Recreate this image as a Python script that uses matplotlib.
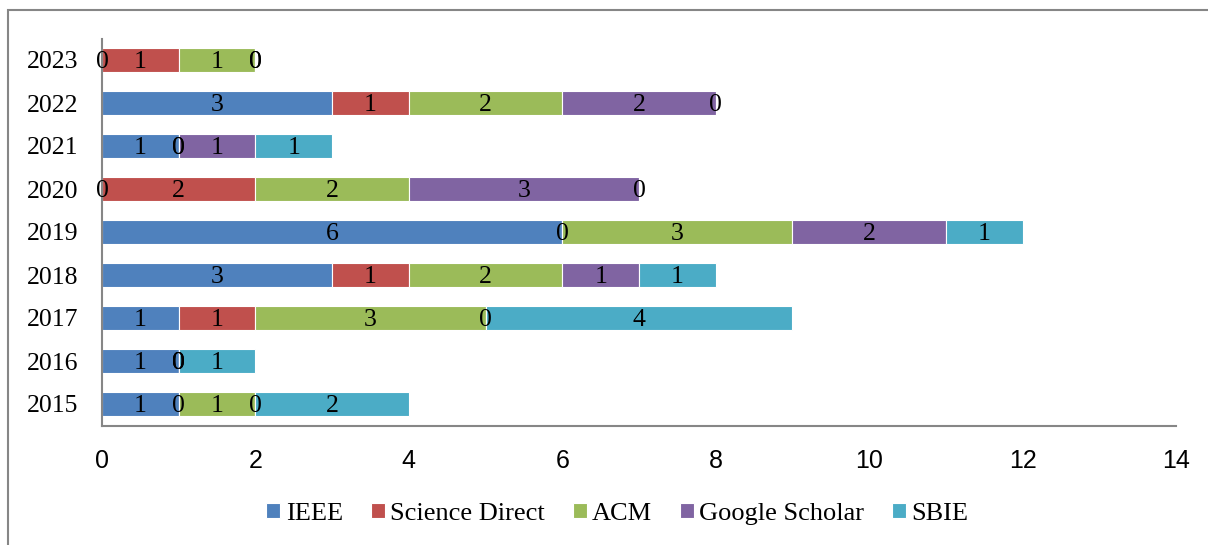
import matplotlib
matplotlib.use("Agg")
import matplotlib.pyplot as plt
from matplotlib.patches import Rectangle
import numpy as np

years = ["2015", "2016", "2017", "2018", "2019", "2020", "2021", "2022", "2023"]
ieee = [1, 1, 1, 3, 6, 0, 1, 3, 0]
science_direct = [0, 0, 1, 1, 0, 2, 0, 1, 1]
acm = [1, 0, 3, 2, 3, 2, 0, 2, 1]
google_scholar = [0, 0, 0, 1, 2, 3, 1, 2, 0]
sbie = [2, 1, 4, 1, 1, 0, 1, 0, 0]

series = [("IEEE", ieee, "#4F81BD"),
          ("Science Direct", science_direct, "#C0504D"),
          ("ACM", acm, "#9BBB59"),
          ("Google Scholar", google_scholar, "#8064A2"),
          ("SBIE", sbie, "#4BACC6")]

W, H = 1208, 545
fig = plt.figure(figsize=(W / 100, H / 100), dpi=100)
ax = fig.add_axes([102 / W, 1 - 425.5 / H, (1176 - 102) / W, (425.5 - 38.5) / H])

serif = "Liberation Serif"
sans = "Liberation Sans"

y = np.arange(len(years))
left = np.zeros(len(years))
for name, vals, col in series:
    vals = np.array(vals, dtype=float)
    ax.barh(y, vals, left=left, height=0.56, color=col, label=name,
            edgecolor="white", linewidth=0.8)
    for yi, (l, v) in enumerate(zip(left, vals)):
        ax.text(l + v / 2, yi - 0.04, f"{int(v)}", ha="center", va="center",
                fontsize=18.5, family=serif, color="black")
    left += vals

ax.set_xlim(0, 14)
ax.set_ylim(-0.5, len(years) - 0.5)
ax.set_xticks(range(0, 15, 2))
ax.set_xticklabels([str(v) for v in range(0, 15, 2)], family=sans, fontsize=18)
ax.set_yticks(y)
ax.set_yticklabels(years, family=serif, fontsize=18.5)
ax.tick_params(axis="x", length=0, pad=17)
ax.tick_params(axis="y", length=0, pad=17)
for s in ["top", "right"]:
    ax.spines[s].set_visible(False)
for s in ["left", "bottom"]:
    ax.spines[s].set_color("#868686")
    ax.spines[s].set_linewidth(1.5)

fig.legend(loc="center", bbox_to_anchor=(617.5 / W, 1 - 514 / H), ncol=5,
           frameon=False, prop={"family": serif, "size": 19},
           handlelength=0.53, handleheight=0.53, handletextpad=0.2,
           columnspacing=1.06, borderpad=0, borderaxespad=0)

fig.patches.append(Rectangle((8 / W, -0.1), 1.1, 1 - 10 / H + 0.1,
                             transform=fig.transFigure, fill=False,
                             edgecolor="#868686", linewidth=1.5, zorder=0))

fig.savefig("out.png", dpi=100)
